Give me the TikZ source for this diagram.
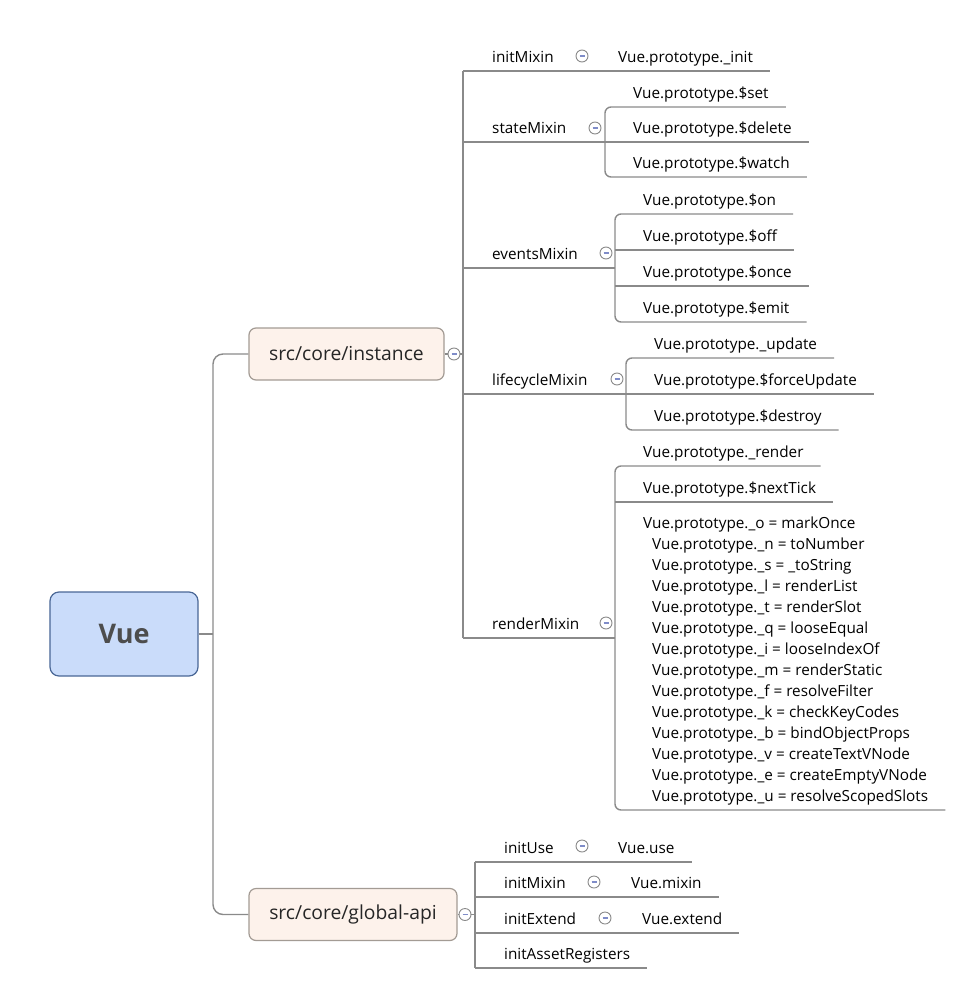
\documentclass[tikz,border=0pt]{standalone}
\usepackage{fontspec}
\setmainfont{Open Sans}
\definecolor{rootfill}{HTML}{CADCFA}
\definecolor{rootline}{HTML}{4A6796}
\definecolor{roottext}{HTML}{4D4D4D}
\definecolor{mainfill}{HTML}{FDF2EB}
\definecolor{mainline}{HTML}{A39B94}
\definecolor{branchgray}{HTML}{8A8A8A}
\definecolor{foldminus}{HTML}{7F8CC8}
\begin{document}
\begin{tikzpicture}[x=1bp,y=-1bp,line join=bevel,
  branch/.style={draw=branchgray,line width=1.4bp},
  rootbox/.style={draw=rootline,fill=rootfill,line width=1.2bp,rounded corners=9bp,minimum width=148bp,minimum height=84bp,text=roottext,font=\fontsize{27bp}{30bp}\selectfont\bfseries},
  mainbox/.style={draw=mainline,fill=mainfill,line width=1.2bp,rounded corners=7bp,minimum height=52bp,text=black!85,font=\fontsize{19.3bp}{22bp}\selectfont},
  topic/.style={anchor=south west,inner xsep=0pt,inner ysep=8bp,text depth=0pt,text height=11bp,font=\fontsize{15.3bp}{21bp}\selectfont},
  fold/.style={circle,draw=branchgray,fill=white,line width=0.9bp,minimum size=12bp,inner sep=0pt,
    path picture={\draw[foldminus,line width=1.2bp] ([xshift=-2.5bp]path picture bounding box.center) -- ([xshift=2.5bp]path picture bounding box.center);}},
]
\useasboundingbox (0,0) rectangle (971,992);
%%
\node (node_vue) at (124,634) [rootbox] {Vue};
\node (node_inst) at (346.5,354) [mainbox,minimum width=195bp] {src/core/instance};
\node (node_gapi) at (353,914.5) [mainbox,minimum width=208bp] {src/core/global-api};
\coordinate (root_trunk) at (213,634);
\draw [branch] (node_vue) -- (root_trunk);
\draw [branch,rounded corners=10bp] (node_inst.west) -| (root_trunk) |- (node_gapi.west);
%
\node (node_inst_fold) at (454,354) [fold] {};
\coordinate (inst_trunk) at (463,354);
\draw [branch] (node_inst) -- (node_inst_fold) -- (inst_trunk);
\node (node_init) at (492,71) [topic] {initMixin};
\node (node_state) at (492,142) [topic] {stateMixin};
\node (node_events) at (492,268) [topic] {eventsMixin};
\node (node_life) at (492,394) [topic] {lifecycleMixin};
\node (node_render) at (492,638) [topic] {renderMixin};
\draw [branch] (node_init.south west -| inst_trunk) -- (node_render.south west -| inst_trunk);
%
\node (node_init_fold) at (582,56) [fold] {};
\node (node_init_0) at (618,71) [topic] {Vue.prototype.\_init};
\draw [branch] (node_init.south west -| inst_trunk) -- ([xshift=17bp]node_init_0.south east);
%
\node (node_state_fold) at (595,128) [fold] {};
\coordinate (br_state) at (605,142);
\node (node_state_0) at (633,107) [topic] {Vue.prototype.\$set};
\node (node_state_1) at (633,142) [topic] {Vue.prototype.\$delete};
\node (node_state_2) at (633,177) [topic] {Vue.prototype.\$watch};
\draw [branch] (node_state.south west -| inst_trunk) -- (br_state) -- ([xshift=17bp]node_state_1.south east);
\draw [branch,rounded corners=6bp] ([xshift=17bp]node_state_0.south east) -| (br_state) |- ([xshift=17bp]node_state_2.south east);
%
\node (node_events_fold) at (606,253) [fold] {};
\coordinate (br_events) at (615,268);
\node (node_events_0) at (643,214) [topic] {Vue.prototype.\$on};
\node (node_events_1) at (643,250) [topic] {Vue.prototype.\$off};
\node (node_events_2) at (643,286) [topic] {Vue.prototype.\$once};
\node (node_events_3) at (643,322) [topic] {Vue.prototype.\$emit};
\draw [branch] (node_events.south west -| inst_trunk) -- (br_events);
\draw [branch] (node_events_1.south west -| br_events) -- ([xshift=17bp]node_events_1.south east);
\draw [branch] (node_events_2.south west -| br_events) -- ([xshift=17bp]node_events_2.south east);
\draw [branch,rounded corners=6bp] ([xshift=17bp]node_events_0.south east) -| (br_events) |- ([xshift=17bp]node_events_3.south east);
%
\node (node_life_fold) at (617,379) [fold] {};
\coordinate (br_life) at (626,394);
\node (node_life_0) at (654,358) [topic] {Vue.prototype.\_update};
\node (node_life_1) at (654,394) [topic] {Vue.prototype.\$forceUpdate};
\node (node_life_2) at (654,430) [topic] {Vue.prototype.\$destroy};
\draw [branch] (node_life.south west -| inst_trunk) -- (br_life) -- ([xshift=17bp]node_life_1.south east);
\draw [branch,rounded corners=6bp] ([xshift=17bp]node_life_0.south east) -| (br_life) |- ([xshift=17bp]node_life_2.south east);
%
\node (node_render_fold) at (606,623) [fold] {};
\coordinate (br_render) at (615,638);
\node (node_render_0) at (643,466) [topic] {Vue.prototype.\_render};
\node (node_render_1) at (643,502) [topic] {Vue.prototype.\$nextTick};
\node (node_render_2) at (643,810) [topic,align=left] {Vue.prototype.\_o = markOnce\\
  \hspace*{9bp}Vue.prototype.\_n = toNumber\\
  \hspace*{9bp}Vue.prototype.\_s = \_toString\\
  \hspace*{9bp}Vue.prototype.\_l = renderList\\
  \hspace*{9bp}Vue.prototype.\_t = renderSlot\\
  \hspace*{9bp}Vue.prototype.\_q = looseEqual\\
  \hspace*{9bp}Vue.prototype.\_i = looseIndexOf\\
  \hspace*{9bp}Vue.prototype.\_m = renderStatic\\
  \hspace*{9bp}Vue.prototype.\_f = resolveFilter\\
  \hspace*{9bp}Vue.prototype.\_k = checkKeyCodes\\
  \hspace*{9bp}Vue.prototype.\_b = bindObjectProps\\
  \hspace*{9bp}Vue.prototype.\_v = createTextVNode\\
  \hspace*{9bp}Vue.prototype.\_e = createEmptyVNode\\
  \hspace*{9bp}Vue.prototype.\_u = resolveScopedSlots};
\draw [branch] (node_render.south west -| inst_trunk) -- (br_render);
\draw [branch] (node_render_1.south west -| br_render) -- ([xshift=17bp]node_render_1.south east);
\draw [branch,rounded corners=6bp] ([xshift=17bp]node_render_0.south east) -| (br_render) |- ([xshift=17bp]node_render_2.south east);
%
\node (node_gapi_fold) at (465,914.5) [fold] {};
\coordinate (gapi_trunk) at (475,914.5);
\draw [branch] (node_gapi) -- (node_gapi_fold) -- (gapi_trunk);
\node (node_guse) at (504,862) [topic] {initUse};
\node (node_gmix) at (504,897) [topic] {initMixin};
\node (node_gext) at (504,933) [topic] {initExtend};
\node (node_gasset) at (504,968) [topic] {initAssetRegisters};
\draw [branch] (node_guse.south west -| gapi_trunk) -- (node_gasset.south west -| gapi_trunk);
\node (node_guse_fold) at (582,846) [fold] {};
\node (node_guse_0) at (618,862) [topic] {Vue.use};
\node (node_gmix_fold) at (594,882) [fold] {};
\node (node_gmix_0) at (631,897) [topic] {Vue.mixin};
\node (node_gext_fold) at (605,918) [fold] {};
\node (node_gext_0) at (642,933) [topic] {Vue.extend};
\draw [branch] (node_guse.south west -| gapi_trunk) -- ([xshift=17bp]node_guse_0.south east);
\draw [branch] (node_gmix.south west -| gapi_trunk) -- ([xshift=17bp]node_gmix_0.south east);
\draw [branch] (node_gext.south west -| gapi_trunk) -- ([xshift=17bp]node_gext_0.south east);
\draw [branch] (node_gasset.south west -| gapi_trunk) -- ([xshift=17bp]node_gasset.south east);
%
\end{tikzpicture}
\end{document}
